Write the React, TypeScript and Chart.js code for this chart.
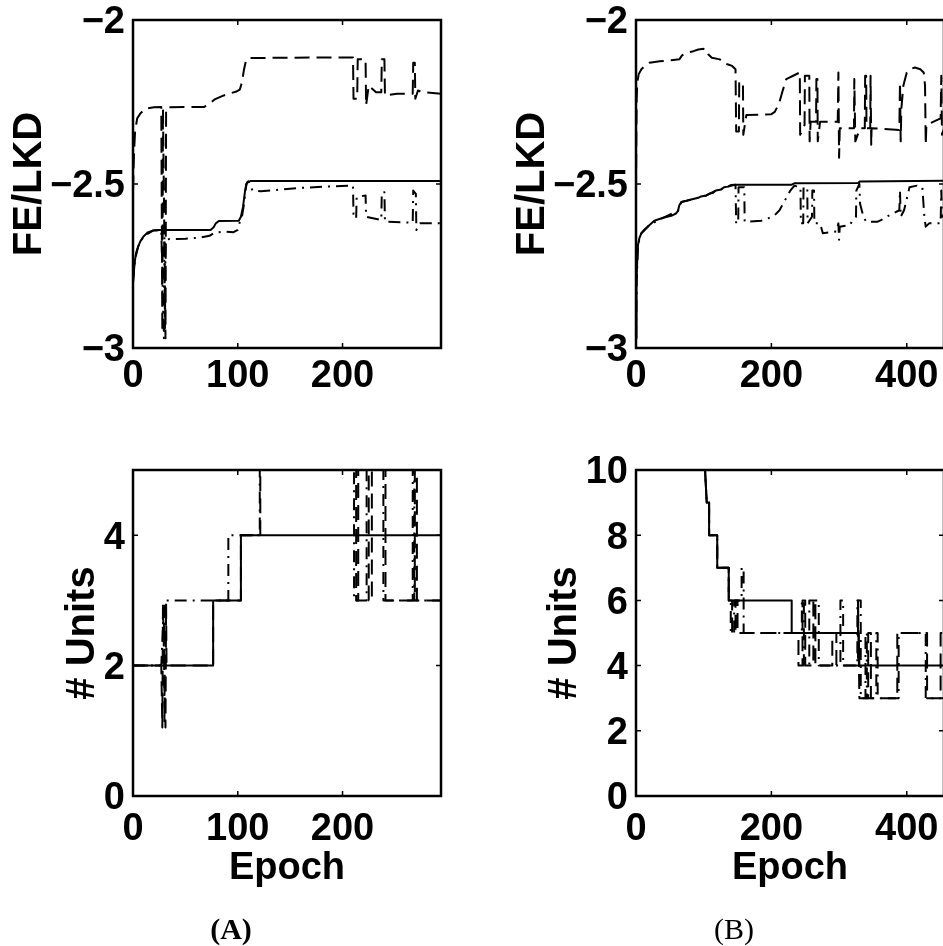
import React, { useEffect, useRef } from 'react';
import { Chart, registerables } from 'chart.js';

Chart.register(...registerables);

type Pt = [number, number];

// ---------- axes ----------
const aEpochMax = 294;
const bEpochMax = 455;
const aXTicks = [0, 100, 200];
const bXTicks = [0, 200, 400];
const feYTicks = [-3, -2.5, -2];
const aUnitsYTicks = [0, 2, 4];
const bUnitsYTicks = [0, 2, 4, 6, 8, 10];

// ---------- panel A, FE/LKD ----------
const aTopSolid: Pt[] = [
  [0, -2.8], [1, -2.76], [2, -2.73], [3, -2.71], [5, -2.69], [7, -2.675], [10, -2.66], [14, -2.648],
  [19, -2.642], [25, -2.64], [74, -2.64], [77, -2.632], [79, -2.62], [82, -2.613], [101, -2.612],
  [103, -2.6], [105, -2.57], [107, -2.52], [109, -2.495], [112, -2.491], [294, -2.491],
];
const aTopDashed: Pt[] = [
  [0, -2.52], [1, -2.4], [2, -2.34], [4, -2.3], [7, -2.285], [12, -2.27], [20, -2.266], [27, -2.265],
  [28, -2.95], [28.6, -2.27], [31, -2.97], [31.6, -2.27],
  [33, -2.266], [68, -2.265], [73, -2.255], [78, -2.242], [85, -2.232], [92, -2.224], [98, -2.219],
  [102, -2.212], [104, -2.19], [106, -2.15], [108, -2.122], [111, -2.116], [150, -2.115], [210, -2.114],
  [210.5, -2.24], [214, -2.24], [214.5, -2.12], [222, -2.12], [222.5, -2.26], [225, -2.2], [232, -2.22],
  [237, -2.22], [237.5, -2.12], [240, -2.12], [240.5, -2.23], [252, -2.225], [267, -2.225],
  [267.5, -2.13], [269, -2.13], [269.5, -2.24], [272, -2.215], [276, -2.22], [294, -2.225],
];
const aTopDashDot: Pt[] = [
  [0, -2.8], [2, -2.73], [5, -2.69], [10, -2.66], [19, -2.642], [27, -2.64],
  [29.5, -2.97], [30, -2.66], [30.5, -2.94], [31, -2.67],
  [35, -2.668], [50, -2.667], [65, -2.663], [73, -2.658], [78, -2.648], [88, -2.645], [96, -2.647],
  [100, -2.64], [102, -2.615], [104, -2.6], [106, -2.56], [108, -2.5], [110, -2.492], [112, -2.5],
  [114, -2.52], [122, -2.522], [140, -2.517], [160, -2.512], [185, -2.508], [210, -2.505],
  [210.5, -2.6], [213, -2.605], [213.5, -2.54], [222, -2.535], [222.5, -2.6], [237, -2.61],
  [237.5, -2.525], [240, -2.525], [240.5, -2.615], [267, -2.618], [267.5, -2.52], [270, -2.53],
  [270.5, -2.64], [274, -2.62], [294, -2.62],
];

// ---------- panel A, # units ----------
const aBotSolid: Pt[] = [[0, 2], [76.5, 2], [76.5, 3], [103, 3], [103, 4], [294, 4]];
const aBotDashed: Pt[] = [
  [0, 2], [27, 2], [28, 1.05], [28.6, 2.95], [31, 1.05], [31.6, 2.95], [32, 2], [76.5, 2], [76.5, 3],
  [103, 3], [103, 4], [121.5, 4], [121.5, 5], [213, 5], [213, 3], [215, 3], [215, 5], [225, 5],
  [225, 3], [228, 3], [228, 5], [241, 5], [241, 3], [269, 3], [269, 5], [271, 5], [271, 3], [294, 3],
];
const aBotDashDot: Pt[] = [
  [0, 2], [27, 2], [29.5, 2.9], [30, 1.1], [30.5, 3], [91, 3], [91, 4], [121, 4], [121, 5],
  [211, 5], [211, 3], [223, 3], [223, 5], [239, 5], [239, 3], [267, 3], [267, 5], [268.5, 5],
  [268.5, 3], [294, 3],
];

// ---------- panel B, FE/LKD ----------
const bTopSolid: Pt[] = [
  [0, -2.97], [0.5, -2.88], [1, -2.8], [2, -2.72], [3, -2.685], [5, -2.665], [8, -2.65], [13, -2.638],
  [20, -2.625], [27, -2.612], [40, -2.603], [52, -2.597], [59, -2.59], [62, -2.582], [64, -2.565],
  [67, -2.555], [75, -2.551], [80, -2.548], [86, -2.545], [92, -2.542], [96, -2.538], [104, -2.535],
  [108, -2.53], [114, -2.527], [118, -2.52], [126, -2.517], [130, -2.51], [136, -2.508], [140, -2.503],
  [146, -2.502], [230, -2.502], [234, -2.498], [328, -2.497], [331, -2.492], [455, -2.49],
];
const bTopDashed: Pt[] = [
  [0, -2.52], [0.5, -2.35], [1, -2.24], [2, -2.19], [4, -2.165], [8, -2.15], [14, -2.138], [20, -2.13],
  [35, -2.126], [55, -2.122], [64, -2.12], [68, -2.108], [75, -2.1], [85, -2.095], [92, -2.09],
  [100, -2.088], [105, -2.09], [107, -2.105], [112, -2.115], [124, -2.12], [128, -2.13], [135, -2.135],
  [142, -2.14], [147, -2.15],
  [148, -2.34], [152, -2.34], [152.5, -2.19], [158, -2.19], [158.5, -2.35], [163, -2.29], [200, -2.287],
  [205, -2.28], [208, -2.268], [212, -2.25], [216, -2.22], [222, -2.18], [242, -2.16], [242.5, -2.35],
  [249, -2.32], [249.5, -2.17], [256, -2.17], [256.5, -2.37], [258, -2.31], [266, -2.31],
  [266.5, -2.18], [268, -2.18], [268.5, -2.37], [272, -2.31], [298, -2.31], [299, -2.16],
  [300, -2.42], [301, -2.33], [322, -2.33], [322.5, -2.18], [324, -2.37], [331, -2.33], [338, -2.33],
  [338.5, -2.17], [340, -2.17], [340.5, -2.33], [346, -2.33], [346.5, -2.17], [347.5, -2.38],
  [348, -2.33], [389, -2.335], [390, -2.19], [391, -2.37], [392, -2.27], [395, -2.2], [400, -2.16],
  [404, -2.15], [412, -2.145], [420, -2.15], [425, -2.16], [427, -2.2], [428, -2.38], [429, -2.32],
  [450, -2.3], [451, -2.17], [452, -2.35], [455, -2.33],
];
const bTopDashDot: Pt[] = [
  [0, -2.97], [1, -2.8], [3, -2.685], [8, -2.65], [20, -2.625], [40, -2.603], [62, -2.582], [67, -2.555],
  [86, -2.545], [104, -2.535], [118, -2.52], [136, -2.508], [147, -2.502],
  [148, -2.62], [151, -2.62], [151.5, -2.51], [160, -2.51], [160.5, -2.615], [185, -2.612],
  [195, -2.605], [205, -2.595], [212, -2.58], [220, -2.55], [228, -2.52], [234, -2.505], [243, -2.51],
  [243.5, -2.62], [247, -2.62], [247.5, -2.51], [253, -2.51], [253.5, -2.62], [260, -2.6],
  [260.5, -2.52], [263, -2.52], [263.5, -2.62], [272, -2.62], [276, -2.65], [285, -2.648],
  [296, -2.645], [299, -2.62], [300, -2.67], [301, -2.63], [316, -2.625], [320, -2.61], [325, -2.6],
  [325.5, -2.52], [330, -2.5], [331, -2.56], [336, -2.6], [340, -2.615], [357, -2.615], [362, -2.61],
  [370, -2.6], [389, -2.58], [390, -2.52], [391, -2.6], [396, -2.58], [404, -2.51], [415, -2.505],
  [423, -2.51], [426, -2.6], [428, -2.63], [433, -2.62], [450, -2.62], [451, -2.52], [452, -2.6],
  [455, -2.6],
];

// ---------- panel B, # units ----------
const bBotSolid: Pt[] = [
  [0, 10], [102, 10], [104.5, 9], [108, 9], [108, 8], [120, 8], [120, 7], [137, 7], [137, 6],
  [230, 6], [230, 5], [329, 5], [330, 4], [455, 4],
];
const bBotDashed: Pt[] = [
  [0, 10], [102, 10], [104.5, 9], [108, 9], [108, 8], [120, 8], [120, 7], [137, 7], [137, 6], [142, 6],
  [142, 5], [147, 5], [147, 6], [150, 6], [150, 5], [240, 5], [240, 4], [246, 4], [246, 6], [250, 6],
  [250, 4], [262, 4], [262, 6], [265, 6], [265, 4], [290, 4], [290, 5], [296, 5], [296, 4], [328, 4],
  [328, 6], [330, 3], [343, 3], [343, 5], [347, 5], [347, 3], [386, 3], [386, 5], [430, 5], [430, 3],
  [450, 3], [450, 5], [455, 5],
];
const bBotDashDot: Pt[] = [
  [0, 10], [102, 10], [104.5, 9], [108, 9], [108, 8], [120, 8], [120, 7], [137, 7], [137, 6], [140, 6],
  [140, 5], [145, 5], [145, 6], [156, 6], [156, 7], [159, 7], [159, 5], [245, 5], [245, 6], [248, 6],
  [248, 4], [256, 4], [256, 6], [270, 6], [270, 4], [302, 4], [302, 6], [306, 6], [306, 4], [327, 4],
  [327, 6], [332, 6], [332, 3], [339, 3], [339, 5], [341, 5], [341, 3], [355, 3], [355, 5], [357, 5],
  [357, 3], [388, 3], [388, 5], [428, 5], [428, 3], [455, 3],
];

// ---------- rendering ----------
const SANS = "'Liberation Sans', Arial, Helvetica, sans-serif";
const fmt = (v: number) => (v < 0 ? '\u2212' + String(Math.abs(v)) : String(v));

const framePlugin = {
  id: 'frameTicks',
  afterDatasetsDraw(chart: any) {
    const { ctx, chartArea: a, scales } = chart;
    const xs = scales.x;
    const ys = scales.y;
    ctx.save();
    ctx.strokeStyle = '#000';
    ctx.lineWidth = 1.5;
    ctx.beginPath();
    for (const t of xs.ticks) {
      const px = xs.getPixelForValue(t.value);
      ctx.moveTo(px, a.bottom);
      ctx.lineTo(px, a.bottom - 5);
      ctx.moveTo(px, a.top);
      ctx.lineTo(px, a.top + 5);
    }
    for (const t of ys.ticks) {
      const py = ys.getPixelForValue(t.value);
      ctx.moveTo(a.left, py);
      ctx.lineTo(a.left + 5, py);
      ctx.moveTo(a.right, py);
      ctx.lineTo(a.right - 5, py);
    }
    ctx.stroke();
    ctx.lineWidth = 2.5;
    ctx.strokeRect(a.left, a.top, a.right - a.left, a.bottom - a.top);
    ctx.restore();
  },
};

interface PanelProps {
  left: number;
  top: number;
  width: number;
  height: number;
  area: { l: number; t: number; r: number; b: number };
  xMax: number;
  xTicks: number[];
  yMin: number;
  yMax: number;
  yTicks: number[];
  yTitle: string;
  yTitlePad: number;
  xTitle?: string;
  xTickPad: number;
  solid: Pt[];
  dashed: Pt[];
  dashdot: Pt[];
}

const ds = (pts: Pt[], dash: number[]) => ({
  data: pts.map(([x, y]) => ({ x, y })),
  borderColor: '#000',
  borderWidth: 2,
  borderDash: dash,
  borderCapStyle: 'butt',
  borderJoinStyle: 'round',
  pointRadius: 0,
  pointHoverRadius: 0,
  tension: 0,
  fill: false,
});

function Panel(p: PanelProps) {
  const ref = useRef<HTMLCanvasElement>(null);
  useEffect(() => {
    const canvas = ref.current;
    if (!canvas) return;
    const xAxisH = p.height - p.area.b;
    const yAxisW = p.area.l;
    const tickFont = { family: SANS, size: 38, weight: 'bold' as const, lineHeight: 1.2 };
    const chart = new Chart(canvas, {
      type: 'line',
      data: {
        datasets: [
          ds(p.dashdot, [12, 6, 2, 6]) as any,
          ds(p.dashed, [15, 7]) as any,
          ds(p.solid, []) as any,
        ],
      },
      options: {
        animation: false,
        responsive: false,
        maintainAspectRatio: false,
        events: [],
        layout: { padding: { left: 0, top: p.area.t, right: p.width - p.area.r, bottom: 0 } },
        plugins: { legend: { display: false }, tooltip: { enabled: false } },
        scales: {
          x: {
            type: 'linear',
            min: 0,
            max: p.xMax,
            afterBuildTicks: (s: any) => {
              s.ticks = p.xTicks.map((v) => ({ value: v }));
            },
            afterFit: (s: any) => {
              s.height = xAxisH;
              s.paddingLeft = 0;
              s.paddingRight = 0;
            },
            ticks: {
              color: '#000',
              font: tickFont,
              padding: p.xTickPad,
              maxRotation: 0,
              minRotation: 0,
              autoSkip: false,
              callback: (v: any) => fmt(Number(v)),
            },
            grid: { display: false, drawTicks: false },
            border: { display: false },
            title: p.xTitle
              ? {
                  display: true,
                  text: p.xTitle,
                  color: '#000',
                  font: { family: SANS, size: 38, weight: 'bold', lineHeight: 1.2 },
                  padding: { top: 0, bottom: 29 },
                }
              : { display: false },
          },
          y: {
            type: 'linear',
            min: p.yMin,
            max: p.yMax,
            afterBuildTicks: (s: any) => {
              s.ticks = p.yTicks.map((v) => ({ value: v }));
            },
            afterFit: (s: any) => {
              s.width = yAxisW;
              s.paddingTop = 0;
              s.paddingBottom = 0;
            },
            ticks: {
              color: '#000',
              font: tickFont,
              padding: 8,
              labelOffset: 3,
              autoSkip: false,
              callback: (v: any) => fmt(Number(v)),
            },
            grid: { display: false, drawTicks: false },
            border: { display: false },
            title: {
              display: true,
              text: p.yTitle,
              color: '#000',
              font: { family: SANS, size: 40, weight: 'bold', lineHeight: 1.2 },
              padding: { top: p.yTitlePad, bottom: 0 },
            },
          },
        },
      } as any,
      plugins: [framePlugin],
    });
    return () => chart.destroy();
  }, []);
  return (
    <canvas
      ref={ref}
      width={p.width}
      height={p.height}
      style={{ position: 'absolute', left: p.left, top: p.top, width: p.width, height: p.height }}
    />
  );
}

export default function App() {
  const capBase: React.CSSProperties = {
    position: 'absolute',
    top: 929,
    transform: 'translate(-50%, -50%)',
    fontFamily: "'Liberation Serif', 'DejaVu Serif', serif",
    fontSize: 30,
    lineHeight: 1,
    color: '#000',
    whiteSpace: 'nowrap',
  };
  return (
    <div
      style={{
        position: 'fixed',
        left: 0,
        top: 0,
        width: 943,
        height: 946,
        overflow: 'hidden',
        background: '#fff',
      }}
    >
      <Panel
        left={0}
        top={0}
        width={460}
        height={420}
        area={{ l: 133, t: 20, r: 441, b: 348 }}
        xMax={aEpochMax}
        xTicks={aXTicks}
        yMin={-3}
        yMax={-2}
        yTicks={feYTicks}
        yTitle="FE/LKD"
        yTitlePad={6}
        xTickPad={6}
        solid={aTopSolid}
        dashed={aTopDashed}
        dashdot={aTopDashDot}
      />
      <Panel
        left={460}
        top={0}
        width={500}
        height={420}
        area={{ l: 176, t: 20, r: 484, b: 348 }}
        xMax={bEpochMax}
        xTicks={bXTicks}
        yMin={-3}
        yMax={-2}
        yTicks={feYTicks}
        yTitle="FE/LKD"
        yTitlePad={49}
        xTickPad={6}
        solid={bTopSolid}
        dashed={bTopDashed}
        dashdot={bTopDashDot}
      />
      <Panel
        left={0}
        top={420}
        width={460}
        height={500}
        area={{ l: 133, t: 50, r: 441, b: 376 }}
        xMax={aEpochMax}
        xTicks={aXTicks}
        yMin={0}
        yMax={5}
        yTicks={aUnitsYTicks}
        yTitle="# Units"
        yTitlePad={59}
        xTitle="Epoch"
        xTickPad={11}
        solid={aBotSolid}
        dashed={aBotDashed}
        dashdot={aBotDashDot}
      />
      <Panel
        left={460}
        top={420}
        width={500}
        height={500}
        area={{ l: 176, t: 50, r: 484, b: 376 }}
        xMax={bEpochMax}
        xTicks={bXTicks}
        yMin={0}
        yMax={10}
        yTicks={bUnitsYTicks}
        yTitle="# Units"
        yTitlePad={81}
        xTitle="Epoch"
        xTickPad={11}
        solid={bBotSolid}
        dashed={bBotDashed}
        dashdot={bBotDashDot}
      />
      <div style={{ ...capBase, left: 231, fontWeight: 'bold' }}>(A)</div>
      <div style={{ ...capBase, left: 734, fontWeight: 'normal' }}>(B)</div>
    </div>
  );
}
